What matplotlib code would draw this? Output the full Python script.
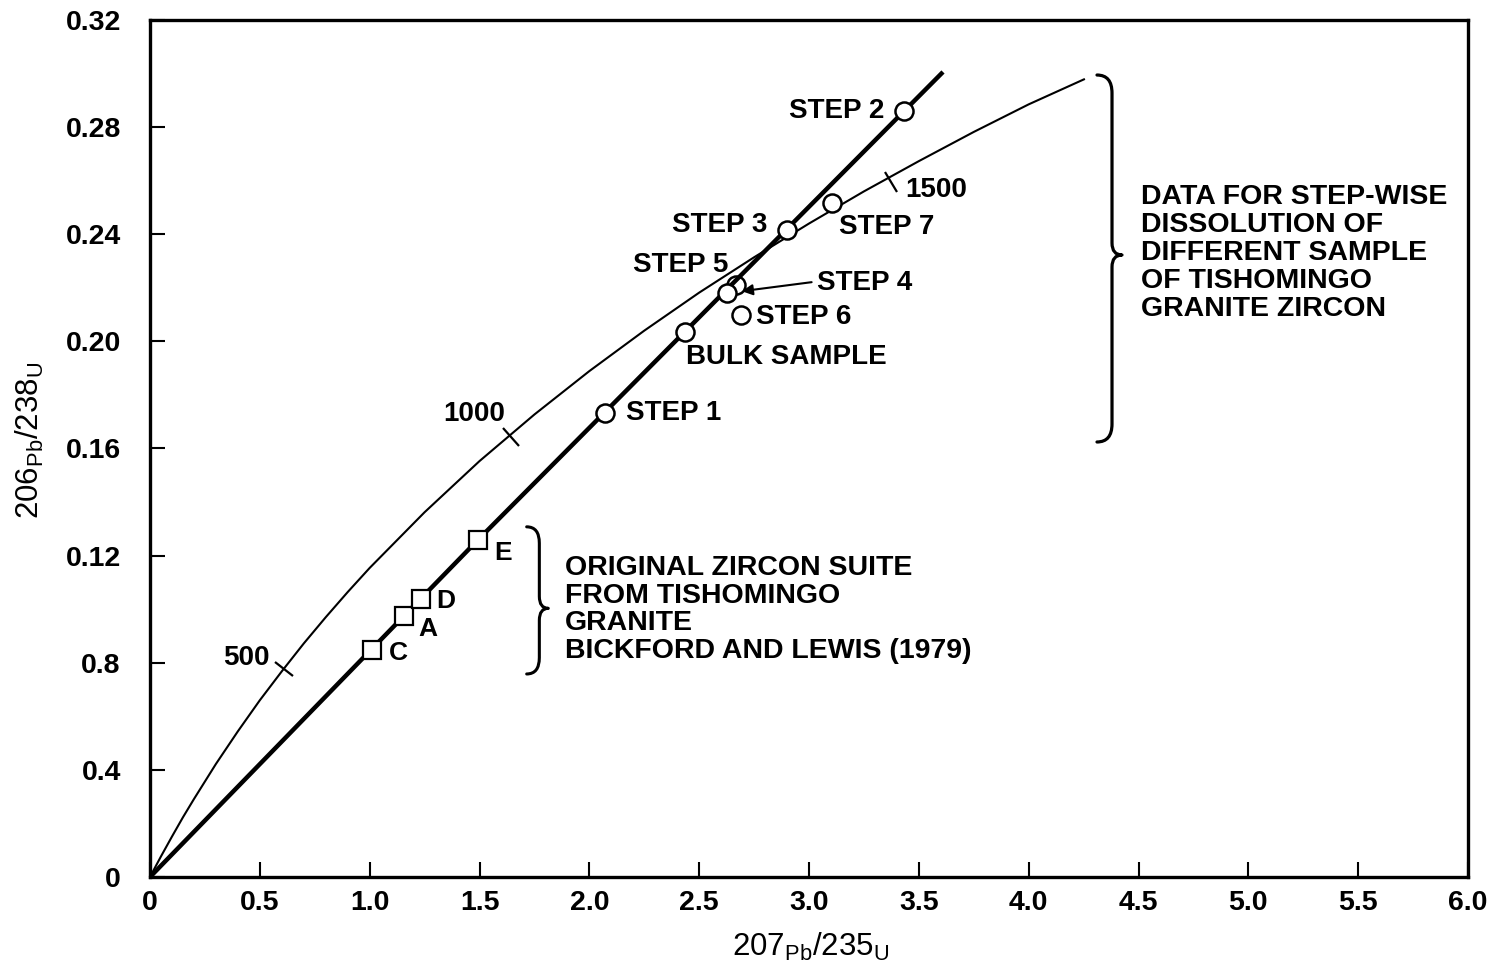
import numpy as np
import matplotlib
matplotlib.use('Agg')
import matplotlib.pyplot as plt
from matplotlib.path import Path
from matplotlib.patches import PathPatch
from matplotlib.markers import MarkerStyle
from matplotlib.transforms import Affine2D

# ---------------- data ----------------
# Concordia curve 207Pb/235U vs 206Pb/238U
concordia_x = [0, 0.02, 0.05, 0.1, 0.15, 0.2, 0.3, 0.4, 0.5, 0.6, 0.7, 0.8, 0.9,
               1.0, 1.25, 1.5, 1.75, 2.0, 2.25, 2.5, 2.75, 3.0, 3.25, 3.5, 3.75,
               4.0, 4.256]
concordia_y = [0, 0.0031, 0.0077, 0.0151, 0.0223, 0.0291, 0.0422, 0.0544, 0.0660,
               0.0768, 0.0872, 0.0970, 0.1064, 0.1154, 0.1362, 0.1553, 0.1727,
               0.1889, 0.2040, 0.2182, 0.2314, 0.2440, 0.2560, 0.2673, 0.2782,
               0.2885, 0.2980]

# Age marks on the concordia (Ma)
age_labels = ['500', '1000', '1500']
age_x = [0.610, 1.643, 3.373]
age_y = [0.0777, 0.1643, 0.2595]

# Discordia (chord) line
discordia_x = [0, 1.492, 3.610]
discordia_y = [0, 0.1258, 0.3006]

# Step-wise dissolution data (circles)
step_labels = ['STEP 1', 'BULK SAMPLE', 'STEP 4', 'STEP 5', 'STEP 6',
               'STEP 3', 'STEP 7', 'STEP 2']
step_x = [2.071, 2.436, 2.625, 2.668, 2.689, 2.898, 3.106, 3.432]
step_y = [0.1734, 0.2034, 0.2180, 0.2211, 0.2099, 0.2416, 0.2516, 0.2860]

# Original zircon suite (squares)
suite_labels = ['C', 'A', 'D', 'E']
suite_x = [1.011, 1.156, 1.232, 1.492]
suite_y = [0.0848, 0.0976, 0.1037, 0.1258]

# Axis ticks
x_ticks = [0, 0.5, 1.0, 1.5, 2.0, 2.5, 3.0, 3.5, 4.0, 4.5, 5.0, 5.5, 6.0]
x_ticklabels = ['0', '0.5', '1.0', '1.5', '2.0', '2.5', '3.0', '3.5', '4.0',
                '4.5', '5.0', '5.5', '6.0']
y_ticks = [0, 0.04, 0.08, 0.12, 0.16, 0.20, 0.24, 0.28, 0.32]
y_ticklabels = ['0', '0.4', '0.8', '0.12', '0.16', '0.20', '0.24', '0.28', '0.32']

# ---------------- style ----------------
plt.rcParams['font.family'] = ['Liberation Sans', 'DejaVu Sans']
plt.rcParams['mathtext.fontset'] = 'custom'
plt.rcParams['mathtext.rm'] = 'Liberation Sans'
plt.rcParams['mathtext.it'] = 'Liberation Sans:italic'
plt.rcParams['mathtext.bf'] = 'Liberation Sans:bold'

W, H = 1494, 972
fig = plt.figure(figsize=(W / 100, H / 100), dpi=100)
ax = fig.add_axes([150 / W, 95 / H, 1318 / W, 857 / H])
ax.set_xlim(0, 6.0)
ax.set_ylim(0, 0.32)

for s in ax.spines.values():
    s.set_linewidth(2.4)
    s.set_color('black')

ax.set_xticks(x_ticks)
ax.set_xticklabels(x_ticklabels)
ax.set_yticks(y_ticks)
ax.set_yticklabels(y_ticklabels)
ax.tick_params(axis='both', direction='in', length=11, width=1.5,
               labelsize=20.5, colors='black')
ax.tick_params(axis='x', pad=9)
ax.tick_params(axis='y', pad=21)
for lab in ax.get_xticklabels() + ax.get_yticklabels():
    lab.set_fontweight('bold')

LABEL_FS = 20

# Concordia
ax.plot(concordia_x, concordia_y, color='black', lw=1.5, zorder=2,
        solid_capstyle='butt')

# Discordia
ax.plot(discordia_x, discordia_y, color='black', lw=3.2, zorder=3,
        solid_capstyle='butt', solid_joinstyle='round')

# Age tick marks perpendicular to concordia
cx = np.array(concordia_x)
cy = np.array(concordia_y)
for lab, axv, ayv in zip(age_labels, age_x, age_y):
    i = int(np.searchsorted(cx, axv))
    p0 = ax.transData.transform((cx[i - 1], cy[i - 1]))
    p1 = ax.transData.transform((cx[i], cy[i]))
    ang = np.degrees(np.arctan2(p1[1] - p0[1], p1[0] - p0[0]))
    m = MarkerStyle('_', transform=Affine2D().rotate_deg(ang + 90))
    ax.plot([axv], [ayv], marker=m, markersize=17, mew=1.6, color='black',
            zorder=3, linestyle='none')

age_offsets = {'500': (-14, 11, 'right'), '1000': (-6, 23, 'right'),
               '1500': (14, -8, 'left')}
for lab, axv, ayv in zip(age_labels, age_x, age_y):
    dx, dy, ha = age_offsets[lab]
    ax.annotate(lab, (axv, ayv), xytext=(dx, dy), textcoords='offset pixels',
                ha=ha, va='center', fontsize=LABEL_FS, fontweight='bold')

# Step circles
for lab, sx, sy in zip(step_labels, step_x, step_y):
    z = 1.5 if lab == 'STEP 5' else 5
    ax.plot([sx], [sy], marker='o', markersize=13, mfc='white', mec='black',
            mew=1.8, zorder=z, linestyle='none')

step_offsets = {
    'STEP 1': (21, 0, 'left'),
    'BULK SAMPLE': (1, -25, 'left'),
    'STEP 5': (-8, 20, 'right'),
    'STEP 6': (15, -2, 'left'),
    'STEP 3': (-19, 5, 'right'),
    'STEP 7': (7, -24, 'left'),
    'STEP 2': (-20, 0, 'right'),
}
for lab, sx, sy in zip(step_labels, step_x, step_y):
    if lab in step_offsets:
        dx, dy, ha = step_offsets[lab]
        ax.annotate(lab, (sx, sy), xytext=(dx, dy), textcoords='offset pixels',
                    ha=ha, va='center', fontsize=LABEL_FS, fontweight='bold')

# STEP 4 label with arrow
i4 = step_labels.index('STEP 4')
ax.annotate('STEP 4', (step_x[i4], step_y[i4]), xytext=(90, 10),
            textcoords='offset pixels', ha='left', va='center',
            fontsize=LABEL_FS, fontweight='bold')
ax.annotate('', xy=(step_x[i4], step_y[i4]), xytext=(85, 11),
            textcoords='offset pixels',
            arrowprops=dict(arrowstyle='-|>', color='black', lw=1.5,
                            mutation_scale=16, shrinkA=0, shrinkB=11))

# Suite squares
ax.plot(suite_x, suite_y, marker='s', markersize=12.5, mfc='white', mec='black',
        mew=1.6, zorder=5, linestyle='none')
suite_offsets = {'C': (17, -3), 'A': (14, -13), 'D': (16, -2), 'E': (17, -13)}
for lab, sx, sy in zip(suite_labels, suite_x, suite_y):
    dx, dy = suite_offsets[lab]
    ax.annotate(lab, (sx, sy), xytext=(dx, dy), textcoords='offset pixels',
                ha='left', va='center', fontsize=LABEL_FS - 1, fontweight='bold')


# Curly braces (axes-fraction coordinates)
def brace(ax, xe, xm, xt, yt, yb, yc, c, t, lw):
    verts = [(xe, yt), (xm, yt), (xm, yt - c),
             (xm, yc + t),
             (xm, yc), (xt, yc),
             (xm, yc), (xm, yc - t),
             (xm, yb + c),
             (xm, yb), (xe, yb)]
    codes = [Path.MOVETO, Path.CURVE3, Path.CURVE3,
             Path.LINETO,
             Path.CURVE3, Path.CURVE3,
             Path.CURVE3, Path.CURVE3,
             Path.LINETO,
             Path.CURVE3, Path.CURVE3]
    ax.add_patch(PathPatch(Path(verts, codes), fill=False, lw=lw,
                           edgecolor='black', transform=ax.transAxes,
                           clip_on=False, capstyle='round', joinstyle='round'))


brace(ax, 0.7185, 0.7299, 0.7375, 0.9358, 0.5076, 0.7258, 0.021, 0.014, 2.3)
brace(ax, 0.2858, 0.2954, 0.3022, 0.4086, 0.2369, 0.3135, 0.019, 0.014, 2.2)

ax.text(0.7519, 0.7281,
        'DATA FOR STEP-WISE\nDISSOLUTION OF\nDIFFERENT SAMPLE\nOF TISHOMINGO\nGRANITE ZIRCON',
        transform=ax.transAxes, ha='left', va='center', fontsize=20.5,
        fontweight='bold', linespacing=1.1)
ax.text(0.3149, 0.3121,
        'ORIGINAL ZIRCON SUITE\nFROM TISHOMINGO\nGRANITE\nBICKFORD AND LEWIS (1979)',
        transform=ax.transAxes, ha='left', va='center', fontsize=20.5,
        fontweight='bold', linespacing=1.07)

# Axis labels
fig.text(811 / W, 1 - 947 / H, r'$207_{\mathrm{Pb}}/235_{\mathrm{U}}$',
         ha='center', va='center', fontsize=22.5)
fig.text(30 / W, 1 - 440 / H, r'$206_{\mathrm{Pb}}/238_{\mathrm{U}}$',
         ha='center', va='center', fontsize=22.5, rotation=90)

fig.savefig('out.png', dpi=100)
